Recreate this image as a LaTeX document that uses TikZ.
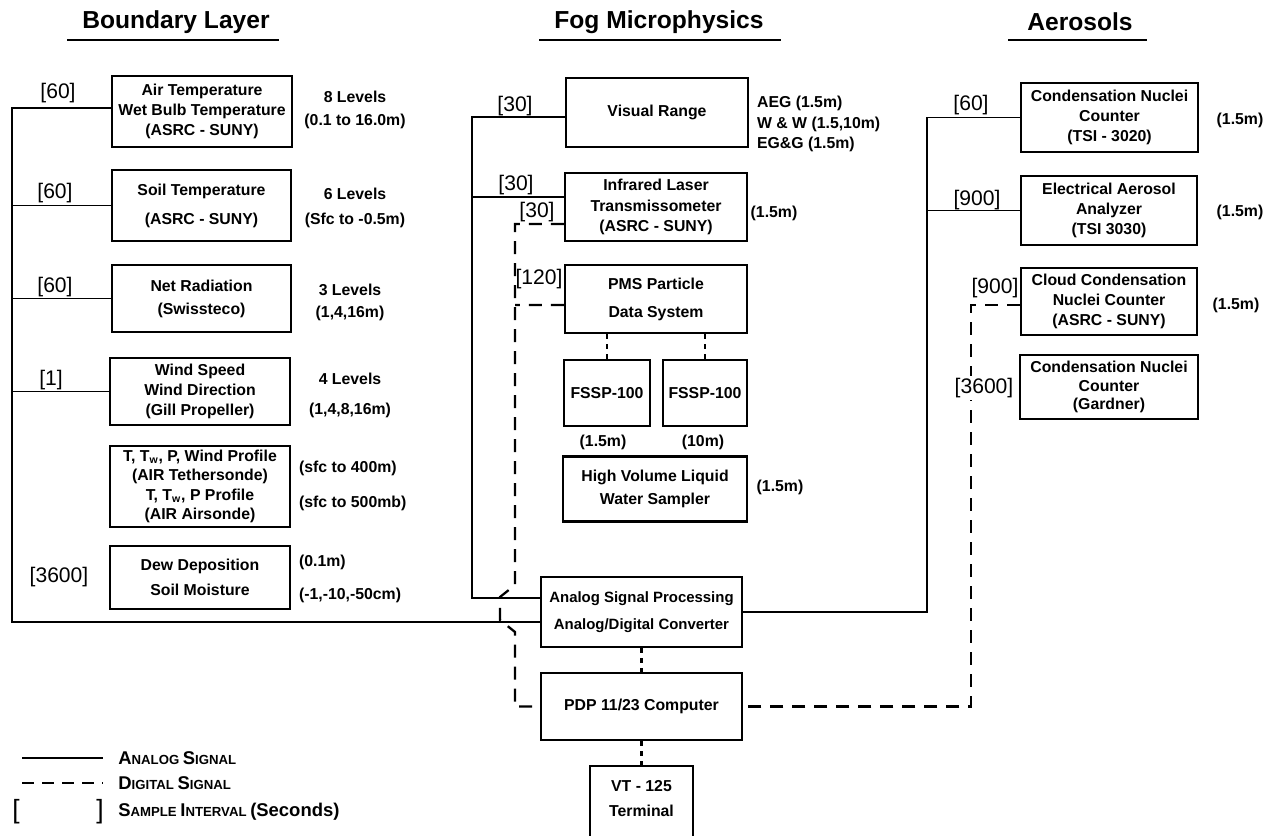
\documentclass[tikz,border=0pt]{standalone}
\usepackage{fontspec}
\setmainfont{Liberation Sans}
\usetikzlibrary{math}
\newcommand{\initcap}[1]{{\fontsize{10.5}{12}\selectfont #1}}

\begin{document}
\begin{tikzpicture}[x=0.2mm, y=-0.2mm,
  instr/.style={draw, line width=1.3pt, align=center, inner sep=0pt,
    font=\fontsize{9}{11.5}\selectfont\bfseries},
  wh/.style 2 args={minimum width=#1*0.2mm, minimum height=#2*0.2mm},
  interval/.style={inner sep=1pt, font=\fontsize{12}{14}\selectfont},
  note/.style={inner sep=1pt, align=center, font=\fontsize{9}{11.5}\selectfont\bfseries},
  heading/.style={font=\fontsize{14}{16}\selectfont\bfseries},
  legend/.style={anchor=west, inner sep=0pt, font=\fontsize{7.5}{9}\selectfont\bfseries},
  analog/.style={line width=1.1pt},
  digital/.style={line width=1.3pt, dash pattern=on 2.6mm off 1.8mm},
  dotline/.style={line width=1.3pt, dash pattern=on 0.9mm off 1.1mm},
  rule/.style={line width=1.6pt}]
\tikzmath{
\xl=12; \yl=622;
\xm=472; \ym=598;
\xr=927; \yr=612;
\xd=515; \xdj=500;
\xrd=971;
}
\useasboundingbox (0,0) rectangle (1280,835);
\clip (0,0) rectangle (1280,835);

% headings
\node[heading] (hBL) at (176,22) {Boundary Layer};
\node[heading] (hFM) at (659,22) {Fog Microphysics};
\node[heading] (hAE) at (1080,22) {Aerosols};
\draw[rule] (67,40) -- (279,40);
\draw[rule] (539,40) -- (781,40);
\draw[rule] (1008,40) -- (1147,40);

% boundary layer
\node[instr, wh={180}{71}] (airT) at (202,111.5) {Air Temperature\\Wet Bulb Temperature\\(ASRC - SUNY)};
\node[instr, wh={179}{71}] (soilT) at (201.5,205.5) {Soil Temperature\\[5pt](ASRC - SUNY)};
\node[instr, wh={179}{67}] (netR) at (201.5,298.5) {Net Radiation\\[1.5pt](Swissteco)};
\node[instr, wh={180}{67}] (wind) at (200,391.5) {Wind Speed\\Wind Direction\\(Gill Propeller)};
\node[instr, wh={180}{81}, font=\fontsize{9}{11}\selectfont\bfseries] (prof) at (200,486.5)
  {T, T\textsubscript{w}, P, Wind Profile\\(AIR Tethersonde)\\T, T\textsubscript{w}, P Profile\\(AIR Airsonde)};
\node[instr, wh={180}{63}] (dew) at (200,577.5) {Dew Deposition\\[2.5pt]Soil Moisture};

\node[interval] (ivAir) at (58,93) {[60]};
\node[interval] (ivSoil) at (55,193) {[60]};
\node[interval] (ivNet) at (55,287) {[60]};
\node[interval] (ivWind) at (51,380) {[1]};
\node[interval] (ivDew) at (59,577) {[3600]};

\node[note] (nAir) at (355,110) {8 Levels\\[2pt](0.1 to 16.0m)};
\node[note] (nSoil) at (355,208) {6 Levels\\[3pt](Sfc to -0.5m)};
\node[note] (nNet) at (350,302) {3 Levels\\[1pt](1,4,16m)};
\node[note] (nWind) at (350,395) {4 Levels\\[5.5pt](1,4,8,16m)};
\node[note, anchor=west] (nProfA) at (297,468) {(sfc to 400m)};
\node[note, anchor=west] (nProfB) at (297,503) {(sfc to 500mb)};
\node[note, anchor=west] (nDewA) at (297,562) {(0.1m)};
\node[note, anchor=west] (nDewB) at (297,595) {(-1,-10,-50cm)};

% fog microphysics
\node[instr, wh={182}{69}] (vis) at (657,112.5) {Visual Range};
\node[instr, wh={182}{68}] (irl) at (656,207) {Infrared Laser\\Transmissometer\\(ASRC - SUNY)};
\node[instr, wh={182}{68}] (pms) at (656,299) {PMS Particle\\[4.5pt]Data System};
\node[instr, wh={86}{66}] (fsspA) at (607,393) {FSSP-100};
\node[instr, wh={84}{66}] (fsspB) at (705,393) {FSSP-100};
\node[instr, wh={184}{65}] (hvl) at (655,489) {High Volume Liquid\\[2pt]Water Sampler};
\node[instr, wh={201}{70}, font=\fontsize{8.5}{11.5}\selectfont\bfseries] (asp) at (641.5,612)
  {Analog Signal Processing\\[3.5pt]Analog/Digital Converter};
\node[instr, wh={201}{67}] (pdp) at (641.5,706.5) {PDP 11/23 Computer};
\node[instr, wh={103}{84}] (vt) at (641.5,808) {};
\node[note, anchor=north, font=\fontsize{9}{14.5}\selectfont\bfseries] (vtText) at ([yshift=-2.6mm]vt.north) {VT - 125\\Terminal};

\node[interval] (ivVis) at (515,106) {[30]};
\node[interval] (ivIrl) at (516,185) {[30]};
\node[interval] (ivIrlD) at (537,212) {[30]};
\node[interval] (ivPms) at (539,279) {[120]};

\node[note, anchor=west, align=left] (nVis) at (755,124) {AEG (1.5m)\\W \& W (1.5,10m)\\EG\&G (1.5m)};
\node[note] (nIrl) at (774,213) {(1.5m)};
\node[note] (nFsspA) at (603,442) {(1.5m)};
\node[note] (nFsspB) at (703,442) {(10m)};
\node[note] (nHvl) at (780,487) {(1.5m)};

% aerosols
\node[instr, wh={177}{69}] (cnA) at (1109.5,117.5) {Condensation Nuclei\\Counter\\(TSI - 3020)};
\node[instr, wh={176}{69}] (eaa) at (1109,210.5) {Electrical Aerosol\\Analyzer\\(TSI 3030)};
\node[instr, wh={176}{67}] (ccn) at (1109,301.5) {Cloud Condensation\\Nuclei Counter\\(ASRC - SUNY)};
\node[instr, wh={178}{64}, font=\fontsize{9}{10.5}\selectfont\bfseries] (cnB) at (1109,387) {Condensation Nuclei\\Counter\\(Gardner)};

\node[interval] (ivCnA) at (971,105) {[60]};
\node[interval] (ivEaa) at (977,200) {[900]};
\node[interval] (ivCcn) at (995,288) {[900]};

\node[note] (nCnA) at (1240,120) {(1.5m)};
\node[note] (nEaa) at (1240,212) {(1.5m)};
\node[note] (nCcn) at (1236,305) {(1.5m)};

% analog lines
\coordinate (lbus) at (\xl,\yl);
\coordinate (mbus) at (\xm,\ym);
\coordinate (rbus) at (\xr,\yr);
\draw[analog] ([yshift=0.7mm]airT.west) -| (lbus) -- (lbus -| asp.west);
\foreach \n in {soilT,netR,wind}
  \draw[analog] (\n.west) -| (lbus);
\draw[analog] ([yshift=-0.9mm]vis.west) -| (mbus) -- (mbus -| asp.west);
\draw[analog] ([yshift=2mm]irl.west) -| (mbus);
\draw[analog] (cnA.west) -| (rbus) -- (asp.east);
\draw[analog] (eaa.west) -| (rbus);

% digital lines
\coordinate (dBr) at (\xd,305);
\coordinate (dJogA) at (\xd,585);
\coordinate (dJogB) at (\xdj,597);
\coordinate (dJogC) at (\xdj,620);
\coordinate (dJogD) at (\xd,632);
\coordinate (rCorner) at (\xrd,706.5);
\draw[digital] ([yshift=-3.4mm]irl.west) -| (dJogA) -- (dJogB) -- (dJogC) -- (dJogD) |- (pdp.west);
\draw[digital] ([yshift=-1.2mm]pms.west) -- (dBr);
\draw[digital] ([yshift=-0.7mm]ccn.west) -| (rCorner) -- (pdp.east);
\node[interval, fill=white] (ivCnB) at (984,388) {[3600]};

% dotted links
\draw[dotline] (fsspA.north |- pms.south) -- (fsspA.north);
\draw[dotline] (fsspB.north |- pms.south) -- (fsspB.north);
\draw[dotline] (asp.south) -- (pdp.north);
\draw[dotline] (pdp.south) -- (vt.north);

% legend
\coordinate (lgA) at (22,758);
\coordinate (lgB) at (103,758);
\coordinate (lgC) at (22,783);
\coordinate (lgD) at (103,783);
\draw[analog] (lgA) -- (lgB);
\draw[digital, dash pattern=on 2.4mm off 1.6mm] (lgC) -- (lgD);
\node[legend] (lgAnalog) at (118,758) {\initcap{A}NALOG \initcap{S}IGNAL};
\node[legend] (lgDigital) at (118,783) {\initcap{D}IGITAL \initcap{S}IGNAL};
\node[interval, font=\fontsize{15}{17}\selectfont] (lgOpen) at (16,812) {[};
\node[interval, font=\fontsize{15}{17}\selectfont] (lgClose) at (100,812) {]};
\node[legend] (lgSample) at (118,812) {\initcap{S}AMPLE \initcap{I}NTERVAL \initcap{(Seconds)}};
\end{tikzpicture}
\end{document}
